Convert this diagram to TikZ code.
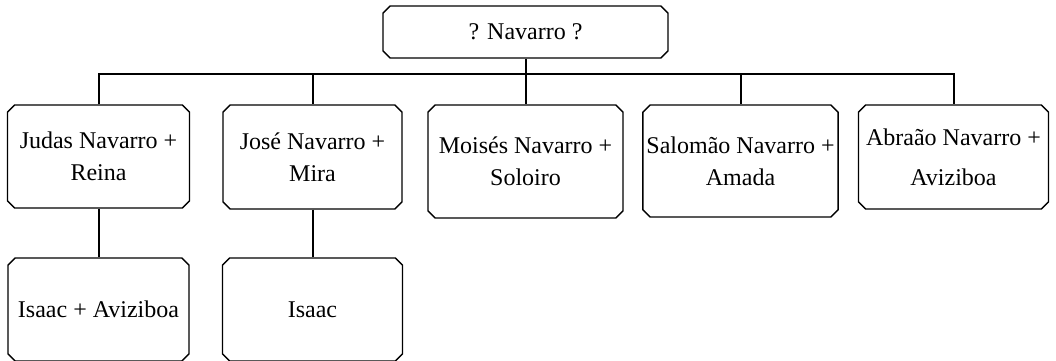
\documentclass[tikz,border=0pt]{standalone}
\usepackage{fontspec}
\setmainfont{Liberation Serif}
\usetikzlibrary{shapes.misc}
\begin{document}
\begin{tikzpicture}[x=0.5pt,y=-0.5pt,
  person/.style={chamfered rectangle, chamfered rectangle xsep=1.8pt,
    chamfered rectangle ysep=1.8pt, draw, line width=0.7pt, inner sep=0pt,
    align=center, font=\fontsize{12pt}{16pt}\selectfont},
  link/.style={line width=1pt}]
  \useasboundingbox (0,0) rectangle (1056,360);
  % root
  \node[person, minimum width=142.5pt, minimum height=26pt] (root) at (525.5,32) {? Navarro ?};
  % children
  \node[person, minimum width=91pt, minimum height=51.5pt] (judas) at (98.5,156.5) {Judas Navarro +\\Reina};
  \node[person, minimum width=89.5pt, minimum height=52pt] (jose) at (312.5,157) {José Navarro +\\Mira};
  \node[person, minimum width=97.5pt, minimum height=56.5pt] (moises) at (525.5,161.5) {Moisés Navarro +\\Soloiro};
  \node[person, minimum width=97.5pt, minimum height=56pt] (salomao) at (740.5,161) {Salomão Navarro +\\Amada};
  \node[person, minimum width=95pt, minimum height=52pt, font=\fontsize{12pt}{20pt}\selectfont] (abraao) at (953.5,157) {Abraão Navarro +\\Aviziboa};
  % grandchildren
  \node[person, minimum width=90.5pt, minimum height=51.5pt] (isaacA) at (98.5,309.5) {Isaac + Aviziboa};
  \node[person, minimum width=90pt, minimum height=51.5pt] (isaacB) at (312.5,309.5) {Isaac};
  % connectors
  \coordinate (bar) at (525.5,74);
  \draw[link] (root.south) -- (moises.north);
  \draw[link] (judas.north) |- (bar) -| (abraao.north);
  \draw[link] (bar -| jose.north) -- (jose.north);
  \draw[link] (bar -| salomao.north) -- (salomao.north);
  \draw[link] (judas.south) -- (isaacA.north);
  \draw[link] (jose.south) -- (isaacB.north);
\end{tikzpicture}
\end{document}
